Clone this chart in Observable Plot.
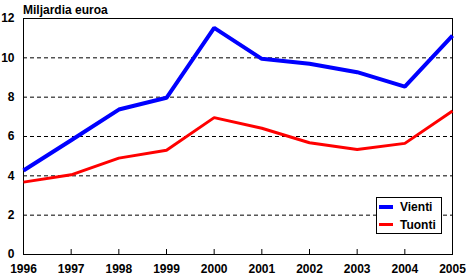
<!DOCTYPE html>
<html>
<head>
<meta charset="utf-8">
<script src="https://cdn.jsdelivr.net/npm/d3@7"></script>
<script src="https://cdn.jsdelivr.net/npm/@observablehq/plot@0.6"></script>
<style>
  body { margin: 0; background: #fff; }
  #wrap { position: relative; width: 466px; height: 276px; font-family: "Liberation Sans", Arial, sans-serif; font-weight: bold; }
  #title { position: absolute; left: 23px; top: 3px; font-size: 12px; line-height: 14px; color: #000; }
  #legend { position: absolute; left: 376px; top: 197px; width: 66px; height: 37px; border: 1px solid #000; background: #fff; box-sizing: border-box; font-size: 12px; }
  .item { position: absolute; left: 2px; height: 14px; line-height: 14px; }
  .sw { position: absolute; left: 0; top: 5px; width: 14px; height: 4px; }
  .lab { position: absolute; left: 21px; top: 0; white-space: nowrap; }
</style>
</head>
<body>
<div id="wrap"></div>
<script>
const years = [1996, 1997, 1998, 1999, 2000, 2001, 2002, 2003, 2004, 2005];
const vienti = [4.27, 5.81, 7.37, 7.97, 11.52, 9.95, 9.7, 9.27, 8.54, 11.13];
const tuonti = [3.68, 4.05, 4.9, 5.3, 6.96, 6.42, 5.68, 5.34, 5.65, 7.3];
const yTicks = [0, 2, 4, 6, 8, 10, 12];
const gridLines = [2, 4, 6, 8, 10];
const seriesNames = ["Vienti", "Tuonti"];
const seriesColors = ["#0000ff", "#ff0000"];
const titleText = "Miljardia euroa";

const rowsV = years.map((y, i) => ({year: y, value: vienti[i]}));
const rowsT = years.map((y, i) => ({year: y, value: tuonti[i]}));

const chart = Plot.plot({
  width: 466,
  height: 276,
  marginLeft: 23,
  marginRight: 14,
  marginTop: 18,
  marginBottom: 22,
  style: {fontFamily: "'Liberation Sans', Arial, sans-serif", fontSize: "12px", fontWeight: "bold", color: "#000", background: "#fff"},
  x: {type: "linear", domain: [1996, 2005]},
  y: {domain: [0, 12]},
  marks: [
    Plot.ruleY(gridLines, {stroke: "#000", strokeWidth: 1, strokeDasharray: "4,3"}),
    Plot.ruleX(years, {x: d => d, stroke: "#000", strokeWidth: 1, insetTop: 231}),
    Plot.frame({stroke: "#000", strokeWidth: 1}),
    Plot.line(rowsT, {x: "year", y: "value", stroke: seriesColors[1], strokeWidth: 3, strokeLinejoin: "miter", strokeLinecap: "butt"}),
    Plot.line(rowsV, {x: "year", y: "value", stroke: seriesColors[0], strokeWidth: 4, strokeLinejoin: "miter", strokeLinecap: "butt"}),
    Plot.axisY({ticks: yTicks, tickSize: 0, tickPadding: 9, label: null, tickFormat: d => String(d), fontSize: 12, fontWeight: "bold"}),
    Plot.axisX({ticks: years, tickSize: 0, tickPadding: 10, label: null, tickFormat: d => String(d), fontSize: 12, fontWeight: "bold"})
  ]
});

const wrap = document.getElementById("wrap");
wrap.appendChild(chart);

const title = document.createElement("div");
title.id = "title";
title.textContent = titleText;
wrap.appendChild(title);

const legend = document.createElement("div");
legend.id = "legend";
seriesNames.forEach((name, i) => {
  const item = document.createElement("div");
  item.className = "item";
  item.style.top = (i === 0 ? 2 : 20) + "px";
  const sw = document.createElement("div");
  sw.className = "sw";
  sw.style.background = seriesColors[i];
  sw.style.height = (i === 0 ? 4 : 3) + "px";
  const lab = document.createElement("div");
  lab.className = "lab";
  lab.textContent = name;
  item.appendChild(sw);
  item.appendChild(lab);
  legend.appendChild(item);
});
wrap.appendChild(legend);
</script>
</body>
</html>
